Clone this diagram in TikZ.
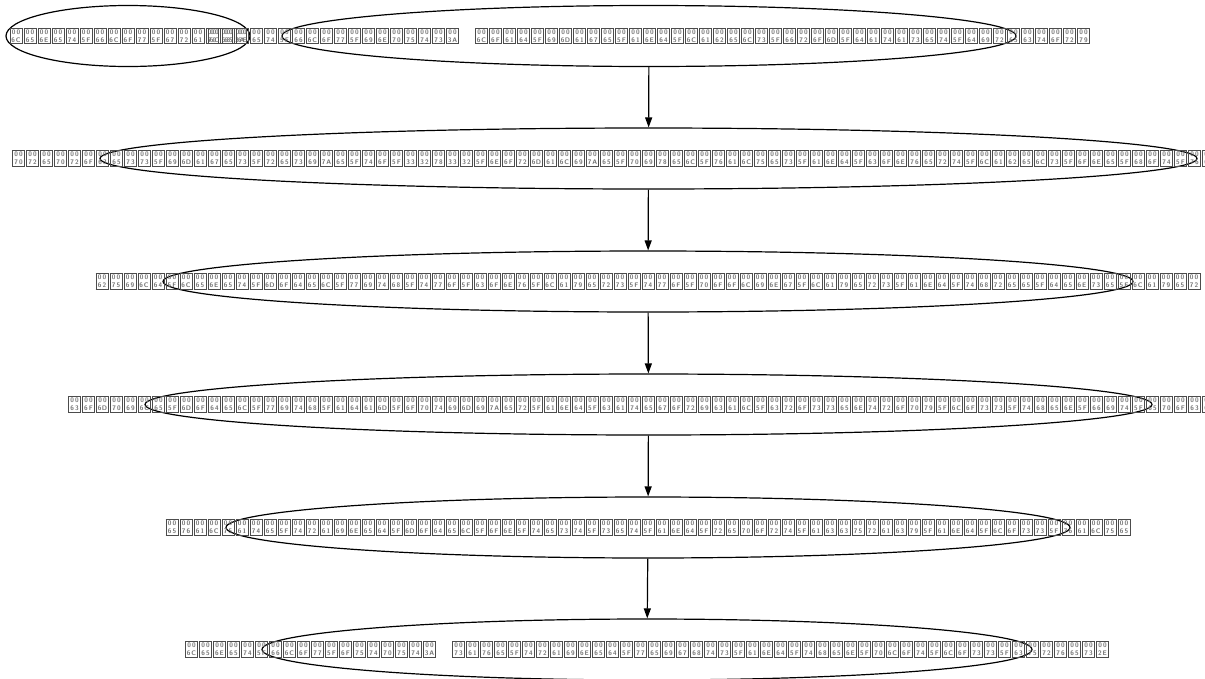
\documentclass[tikz,border=0pt]{standalone}
\usetikzlibrary{arrows.meta,shapes.geometric}
\definecolor{tofuframe}{gray}{0.3}
\definecolor{tofudigit}{gray}{0.45}
\newcommand\tofufont{\fontsize{6.6}{6.6}\selectfont\sffamily\bfseries}
\newcommand\tofuG[2]{\kern0.5pt{\color{tofuframe}\setlength\fboxrule{0.8pt}\setlength\fboxsep{0.4pt}\fbox{\vbox to 14pt{\offinterlineskip\vskip0.6pt\hbox to 10.6pt{\color{tofudigit}\tofufont\hfil 0\hfil 0\hfil}\vss\hbox to 10.6pt{\color{tofudigit}\tofufont\hfil#1\hfil#2\hfil}\vskip0.6pt}}}\kern0.5pt}
\newcommand\tofuchar[1]{\pgfmathparse{Hex(\number`#1)}\expandafter\tofuG\pgfmathresult}
\def\tofuend{tofuend-marker}
\newcommand\tofustr[1]{\tofuwalk#1\tofuend}
\def\tofuwalk#1{\ifx\tofuend#1\else\tofuchar{#1}\expandafter\tofuwalk\fi}
\newcommand\tofusp{\hspace*{15pt}}
\tikzset{
  gv/.style={draw, ellipse, line width=1.2pt, inner sep=0pt, minimum height=61pt},
  flow/.style={line width=1.2pt, -{Triangle[length=10pt,width=7pt]}}
}
\begin{document}
\begin{tikzpicture}[x=1pt,y=-1pt]
\useasboundingbox (0,0) rectangle (1205,678);
\node[gv, minimum width=244pt] (n0) at (128,36) {\makebox[0pt]{\tofustr{lenet_flow_graph:}}};
\node[gv, minimum width=734pt] (n1) at (649,36) {\makebox[0pt]{\tofustr{lenet_flow_inputs:}\tofusp\tofustr{load_image_and_labels_from_dataset_directory}}};
\node[gv, minimum width=1097pt] (n2) at (648.5,158.5) {\makebox[0pt]{\tofustr{preprocess_images_resize_to_32x32_normalize_pixel_values_and_convert_labels_one_hot_vectors}}};
\node[gv, minimum width=970pt] (n3) at (648,281.5) {\makebox[0pt]{\tofustr{build_lenet_model_with_two_conv_layers_two_pooling_layers_and_three_dense_layer}}};
\node[gv, minimum width=1007pt] (n4) at (648.5,404.5) {\makebox[0pt]{\tofustr{compile_model_with_adam_optimizer_and_categorical_crossentropy_loss_then_fit_epochs}}};
\node[gv, minimum width=844pt] (n5) at (648,527.5) {\makebox[0pt]{\tofustr{evaluate_trained_model_on_test_set_and_report_accuracy_and_loss_value}}};
\node[gv, minimum width=770pt] (n6) at (647,649.5) {\makebox[0pt]{\tofustr{lenet_flow_output:}\tofusp\tofustr{save_trained_weights_and_then_plot_loss_curves.}}};
\draw[flow] (n1) -- (n2);
\draw[flow] (n2) -- (n3);
\draw[flow] (n3) -- (n4);
\draw[flow] (n4) -- (n5);
\draw[flow] (n5) -- (n6);
\end{tikzpicture}
\end{document}
